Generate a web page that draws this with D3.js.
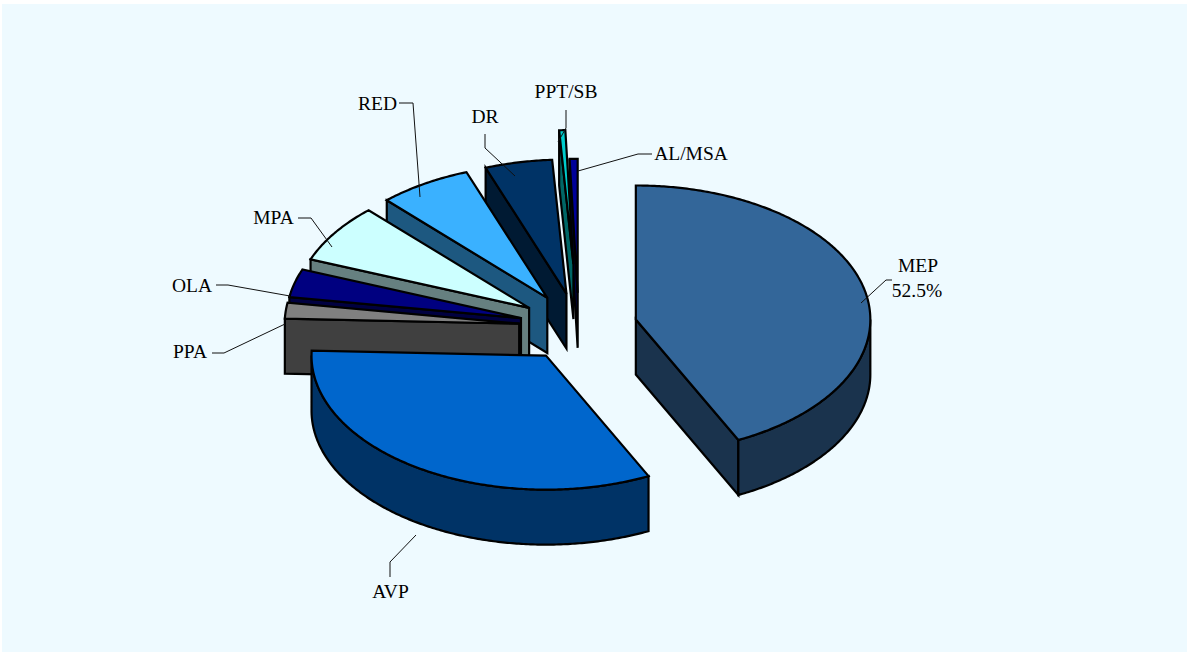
<!DOCTYPE html>
<html><head><meta charset="utf-8">
<script src="https://cdn.jsdelivr.net/npm/d3@7"></script>
<style>html,body{margin:0;padding:0;background:#fff}svg{display:block}</style>
</head><body><svg id="c" width="1189" height="652"></svg>
<script>
// Data: shares read from the drawn slice sweeps (the printed 52.5% is the chart's own label text)
const categories = ["MEP","AVP","PPA","OLA","MPA","RED","DR","PPT/SB","AL/MSA"];
const shares = [42.8,32.8,1.9,3.4,7.1,6.4,4.63,0.42,0.55];
const valueLabels = ["52.5%","","","","","","","",""];

// Styles and layout
const topColors = ["#336699","#0066CC","#808080","#000080","#CCFFFF","#3AB1FF","#003366","#00CCCC","#000099"];
const sideColors = ["#1A334D","#003366","#404040","#000040","#668080","#1D5880","#001A33","#006666","#00004D"];
const explode = [.25,.255,.255,.255,.255,.255,.255,.47,.255];
const labelAnchors = [[918,272],[390.5,598],[190,358],[192,292],[273.5,224],[377.5,110],[485,123],[566,98],[691,160]];
const leaders = [
 [[861,303],[886,280],[892,280]],
 [[416,535],[390,562],[390,577]],
 [[285,324],[224,353],[212,353]],
 [[290,296],[228,285],[216,285]],
 [[332,247],[311,218],[298,218]],
 [[420,197],[413,103],[399,103]],
 [[515,176],[485,148],[485,134]],
 [[558,142],[566,128],[566,110]],
 [[578,171],[638,154],[652,154]]
];
const W=1189,H=652, cx=578.7, cy=327, rx=234.5, ry=134, depth=55;

const svg=d3.select("#c");
svg.append("rect").attr("x",2).attr("y",4).attr("width",1185).attr("height",648).attr("fill","#EEFAFF");

const px=d3.scaleLinear().domain([-1,1]).range([cx-rx,cx+rx]);
const py=d3.scaleLinear().domain([-1,1]).range([cy-ry,cy+ry]);
const pie=d3.pie().sort(null).value(d=>d);
const arcs=pie(shares);
const line=d3.line();
const polar=(t,r,ox,oy,dz)=>[px(ox+r*Math.sin(t)),py(oy-r*Math.cos(t))+dz];
const range=(a,b)=>{const n=Math.max(2,Math.ceil((b-a)/0.01));return d3.range(n+1).map(i=>a+(b-a)*i/n)};

const g=svg.append("g").attr("stroke","#000").attr("stroke-width",2.2).attr("stroke-linejoin","miter");
d3.range(arcs.length-1,-1,-1).forEach(i=>{
  const a=arcs[i], t0=a.startAngle, t1=a.endAngle, mid=(t0+t1)/2;
  const ox=explode[i]*Math.sin(mid), oy=-explode[i]*Math.cos(mid);
  const apex=polar(0,0,ox,oy,0), apexB=polar(0,0,ox,oy,depth);
  const rim=(t,dz)=>polar(t,1,ox,oy,dz);
  // cut faces
  if(Math.sin(t0)<0) g.append("path").attr("fill",sideColors[i])
    .attr("d",line([apex,rim(t0,0),rim(t0,depth),apexB])+"Z");
  if(Math.sin(t1)>0) g.append("path").attr("fill",sideColors[i])
    .attr("d",line([apex,rim(t1,0),rim(t1,depth),apexB])+"Z");
  // outer wall
  const w0=Math.max(t0,Math.PI/2), w1=Math.min(t1,Math.PI*1.5);
  if(w1>w0){
    const ts=range(w0,w1);
    g.append("path").attr("fill",sideColors[i])
     .attr("d",line(ts.map(t=>rim(t,0)).concat(ts.slice().reverse().map(t=>rim(t,depth))))+"Z");
  }
  // top
  g.append("path").attr("fill",topColors[i])
   .attr("d",line([apex].concat(range(t0,t1).map(t=>rim(t,0))))+"Z");
});

svg.append("g").selectAll("path").data(leaders).join("path")
  .attr("d",d=>line(d)).attr("fill","none").attr("stroke","#111").attr("stroke-width",1);

const tg=svg.append("g").attr("font-family","'Liberation Serif',serif").attr("font-size",19.5).attr("fill","#000").attr("text-anchor","middle");
categories.forEach((c,i)=>{
  tg.append("text").attr("x",labelAnchors[i][0]).attr("y",labelAnchors[i][1]).text(c);
  if(valueLabels[i]) tg.append("text").attr("x",labelAnchors[i][0]-1).attr("y",labelAnchors[i][1]+25).text(valueLabels[i]);
});
</script></body></html>
